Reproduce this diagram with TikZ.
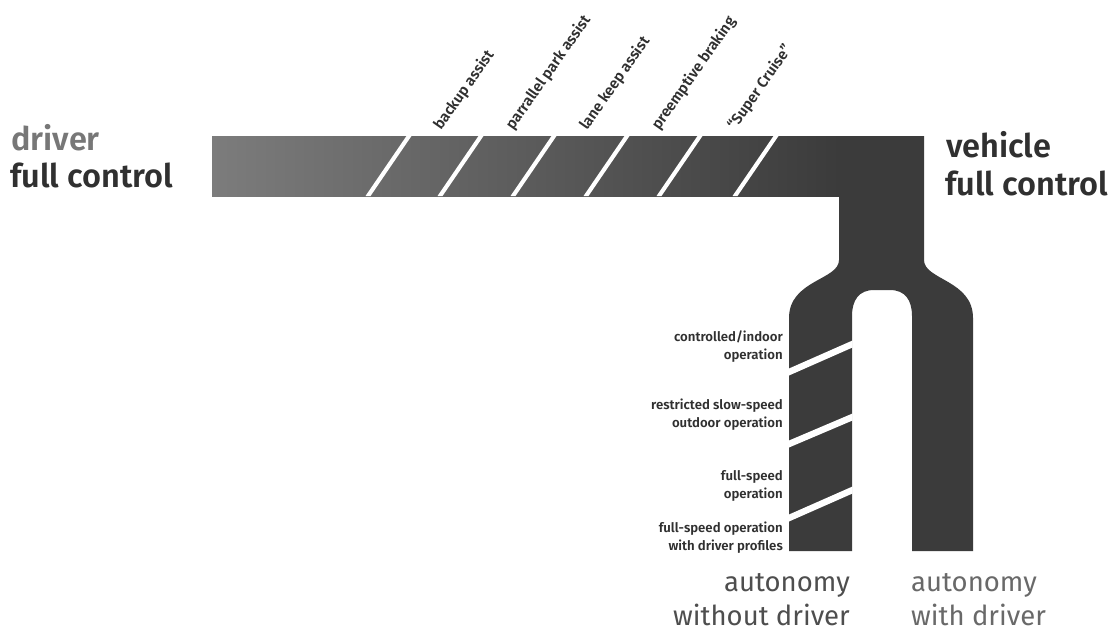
\documentclass[tikz,border=0pt]{standalone}
\usepackage{fontspec}
\newfontfamily\fsemi{Fira Sans SemiBold}
\newfontfamily\freg{Fira Sans}
\definecolor{dark}{HTML}{3B3B3B}
\definecolor{barL}{HTML}{7C7C7C}
\definecolor{txtdark}{HTML}{303030}
\definecolor{txtgray}{HTML}{777777}
\definecolor{txtmid}{HTML}{4E4E4E}
\begin{document}
\begin{tikzpicture}[x=1pt,y=-1pt,
  big/.style={font=\fsemi\fontsize{32.5}{38}\selectfont, inner sep=0pt, anchor=base west},
  tag/.style={font=\fsemi\fontsize{15}{17}\selectfont, text=txtdark, inner sep=0pt, anchor=base west, rotate=55},
  leglabel/.style={font=\fsemi\fontsize{13.2}{17.5}\selectfont, text=txtdark, align=right, inner sep=0pt, anchor=base east},
  bottomlabel/.style={font=\freg\fontsize{27.5}{34}\selectfont, text=txtmid, inner sep=0pt},
  stripe/.style={fill=white}
]
\path[use as bounding box, fill=white] (0,0) rectangle (1113,632);

% horizontal bar with gradient
\fill[left color=barL, right color=dark] (212,136) rectangle (840,196);
% stem and fork
\fill[dark] (839,136) -- (924,136) -- (924,260)
  .. controls (924,280) and (973,280) .. (973,318)
  -- (973,551) -- (912,551) -- (912,316)
  .. controls (912,300) and (905,290) .. (890,290)
  -- (874,290)
  .. controls (859,290) and (852,300) .. (852,316)
  -- (852,551) -- (789,551) -- (789,318)
  .. controls (789,280) and (839,280) .. (839,260) -- cycle;

% white stripes on the bar
\foreach \t in {409,481,554,627,700,776}{
  \fill[stripe] (\t-43.5,196) -- (\t-38.5,196) -- (\t+2.5,136) -- (\t-2.5,136) -- cycle;
}
% white stripes on the left leg
\foreach \yl/\yr in {372/344,444/417,518/490}{
  \fill[stripe] (789,\yl-3.5) -- (852.5,\yr-3.5) -- (852.5,\yr+3.5) -- (789,\yl+3.5) -- cycle;
}

% rotated feature labels
\node[tag] (t1) at (441,131) {backup assist};
\node[tag] (t2) at (513,131) {parrallel park assist};
\node[tag] (t3) at (587,131) {lane keep assist};
\node[tag] (t4) at (659,131) {preemptive braking};
\node[tag] (t5) at (735,131) {“Super Cruise”};

% side labels
\node[big, text=txtgray] (drv) at (11,150) {driver};
\node[big, text=txtdark] (dfc) at (10,187) {full control};
\node[big, text=txtdark] (veh) at (946,157) {vehicle};
\node[big, text=txtdark] (vfc) at (945,195) {full control};

% leg labels (anchor at last line baseline)
\node[leglabel] (l1) at (783,359) {controlled/indoor\\operation};
\node[leglabel] (l2) at (783,427) {restricted slow-speed\\outdoor operation};
\node[leglabel] (l3) at (783,498) {full-speed\\operation};
\node[leglabel] (l4) at (783,550) {full-speed operation\\with driver profiles};

% bottom labels (anchor at last line baseline)
\node[bottomlabel, align=right, anchor=base east] (a1) at (850,625) {autonomy\\without driver};
\node[bottomlabel, align=left, anchor=base west, text=txtmid!85] (a2) at (911,625) {autonomy\\with driver};
\end{tikzpicture}
\end{document}
